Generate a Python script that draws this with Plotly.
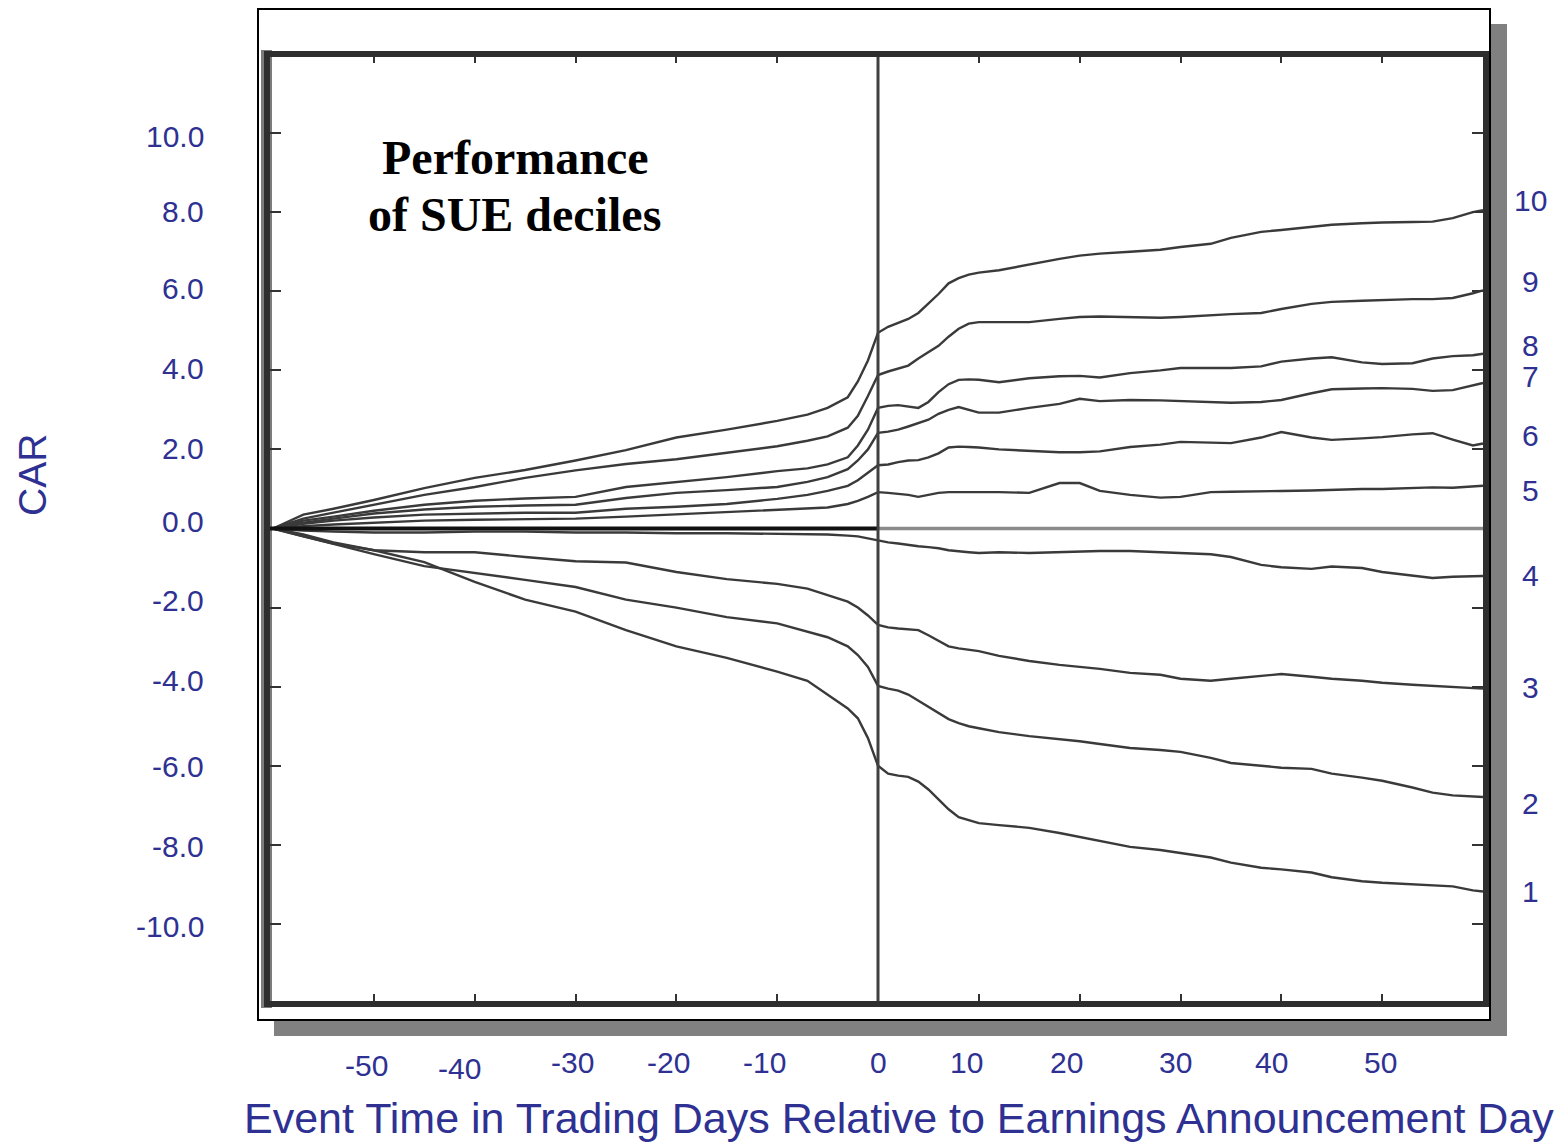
import plotly.graph_objects as go

# ---------------- data ----------------
days = [-60, -57, -54, -50, -45, -40, -35, -30, -25, -20, -15, -10, -7, -5, -3, -2, -1, 0,
        1, 2, 3, 4, 5, 6, 7, 8, 9, 10, 12, 15, 18, 20, 22, 25, 28, 30, 33, 35, 38, 40,
        43, 45, 48, 50, 53, 55, 57, 59, 60]

car_d10 = [0, 0.35, 0.5, 0.72, 1.02, 1.28, 1.48, 1.72, 1.98, 2.3, 2.5, 2.72, 2.88, 3.05, 3.32, 3.72, 4.25, 4.95,
           5.1, 5.2, 5.3, 5.45, 5.68, 5.93, 6.2, 6.33, 6.42, 6.47, 6.53, 6.68, 6.82, 6.9, 6.95, 7.0, 7.05, 7.12,
           7.2, 7.35, 7.5, 7.55, 7.63, 7.68, 7.72, 7.74, 7.75, 7.76, 7.85, 8.0, 8.05]
car_d9 = [0, 0.25, 0.4, 0.6, 0.85, 1.05, 1.28, 1.47, 1.63, 1.75, 1.92, 2.08, 2.22, 2.33, 2.55, 2.85, 3.35, 3.88,
          3.97, 4.05, 4.12, 4.3, 4.45, 4.62, 4.85, 5.05, 5.18, 5.22, 5.22, 5.22, 5.3, 5.35, 5.36, 5.35, 5.33, 5.35,
          5.4, 5.42, 5.45, 5.55, 5.68, 5.73, 5.76, 5.78, 5.8, 5.8, 5.83, 5.95, 6.02]
car_d8 = [0, 0.2, 0.3, 0.45, 0.6, 0.7, 0.76, 0.8, 1.05, 1.18, 1.3, 1.45, 1.52, 1.62, 1.8, 2.1, 2.5, 3.05,
          3.1, 3.12, 3.08, 3.05, 3.2, 3.45, 3.65, 3.76, 3.77, 3.76, 3.7, 3.8, 3.85, 3.86, 3.82, 3.93, 4.0, 4.06,
          4.06, 4.06, 4.1, 4.22, 4.3, 4.33, 4.2, 4.16, 4.18, 4.3, 4.36, 4.38, 4.42]
car_d7 = [0, 0.15, 0.25, 0.38, 0.48, 0.55, 0.58, 0.6, 0.77, 0.9, 0.97, 1.05, 1.18, 1.3, 1.5, 1.72, 2.0, 2.42,
          2.45, 2.5, 2.58, 2.67, 2.75, 2.9, 3.0, 3.07, 3.0, 2.93, 2.93, 3.05, 3.15, 3.28, 3.22, 3.25, 3.24, 3.22,
          3.2, 3.18, 3.2, 3.25, 3.42, 3.52, 3.54, 3.55, 3.53, 3.48, 3.5, 3.62, 3.68]
car_d6 = [0, 0.12, 0.2, 0.28, 0.35, 0.38, 0.4, 0.4, 0.5, 0.55, 0.62, 0.75, 0.85, 0.95, 1.08, 1.22, 1.4, 1.6,
          1.62, 1.68, 1.72, 1.73, 1.8, 1.9, 2.05, 2.07, 2.06, 2.05, 2.0, 1.97, 1.93, 1.93, 1.95, 2.06, 2.12, 2.19,
          2.17, 2.16, 2.3, 2.44, 2.3, 2.24, 2.28, 2.31, 2.38, 2.41, 2.25, 2.1, 2.15]
car_d5 = [0, 0.06, 0.1, 0.15, 0.2, 0.22, 0.24, 0.25, 0.3, 0.36, 0.42, 0.48, 0.52, 0.53, 0.62, 0.7, 0.8, 0.92,
          0.9, 0.88, 0.85, 0.8, 0.85, 0.9, 0.92, 0.92, 0.92, 0.92, 0.92, 0.9, 1.15, 1.15, 0.95, 0.85, 0.78, 0.8,
          0.92, 0.93, 0.95, 0.95, 0.96, 0.98, 1.0, 1.0, 1.02, 1.04, 1.03, 1.06, 1.08]
car_d4 = [0, -0.05, -0.08, -0.1, -0.1, -0.08, -0.08, -0.1, -0.1, -0.12, -0.12, -0.13, -0.15, -0.15, -0.18, -0.2, -0.25, -0.3,
          -0.35, -0.38, -0.42, -0.45, -0.47, -0.5, -0.55, -0.58, -0.6, -0.62, -0.6, -0.62, -0.6, -0.57, -0.57, -0.57, -0.6, -0.62,
          -0.65, -0.72, -0.92, -0.98, -1.02, -0.96, -1.0, -1.1, -1.2, -1.25, -1.22, -1.2, -1.2]
car_d3 = [0, -0.15, -0.35, -0.55, -0.6, -0.6, -0.72, -0.83, -0.86, -1.1, -1.28, -1.4, -1.52, -1.68, -1.85, -2.0, -2.2, -2.44,
          -2.5, -2.53, -2.55, -2.57, -2.7, -2.85, -2.98, -3.03, -3.07, -3.1, -3.22, -3.35, -3.45, -3.5, -3.55, -3.65, -3.7, -3.8,
          -3.85, -3.8, -3.72, -3.68, -3.75, -3.8, -3.85, -3.9, -3.95, -3.98, -4.02, -4.05, -4.05]
car_d2 = [0, -0.2, -0.4, -0.65, -0.95, -1.12, -1.3, -1.48, -1.8, -2.0, -2.24, -2.4, -2.6, -2.75, -2.98, -3.2, -3.5, -3.98,
          -4.05, -4.1, -4.2, -4.35, -4.5, -4.65, -4.82, -4.92, -5.0, -5.05, -5.15, -5.25, -5.32, -5.38, -5.45, -5.55, -5.6, -5.65,
          -5.8, -5.93, -6.0, -6.05, -6.08, -6.2, -6.3, -6.38, -6.55, -6.68, -6.75, -6.78, -6.79]
car_d1 = [0, -0.2, -0.38, -0.55, -0.85, -1.35, -1.8, -2.1, -2.57, -2.98, -3.27, -3.62, -3.85, -4.2, -4.55, -4.8, -5.3, -6.0,
          -6.2, -6.25, -6.28, -6.4, -6.6, -6.85, -7.1, -7.3, -7.38, -7.45, -7.5, -7.57, -7.7, -7.8, -7.9, -8.05, -8.13, -8.2,
          -8.32, -8.45, -8.58, -8.62, -8.7, -8.82, -8.92, -8.96, -9.0, -9.01, -9.05, -9.15, -9.18]

decile_names = ["10", "9", "8", "7", "6", "5", "4", "3", "2", "1"]
decile_series = [car_d10, car_d9, car_d8, car_d7, car_d6, car_d5, car_d4, car_d3, car_d2, car_d1]

y_tick_values = [10, 8, 6, 4, 2, 0, -2, -4, -6, -8, -10]
y_tick_labels = ["10.0", "8.0", "6.0", "4.0", "2.0", "0.0", "-2.0", "-4.0", "-6.0", "-8.0", "-10.0"]
x_tick_values = [-50, -40, -30, -20, -10, 0, 10, 20, 30, 40, 50]
x_tick_labels = ["-50", "-40", "-30", "-20", "-10", "0", "10", "20", "30", "40", "50"]

title_lines = ["Performance", "of SUE deciles"]
x_title = "Event Time in Trading Days Relative to Earnings Announcement Day"
y_title = "CAR"

# ---------------- layout / style (pixels) ----------------
FIG_W, FIG_H = 1556, 1143
L, R, T, B = 268, 1485, 52, 1005
PW, PH = R - L, B - T
BLUE = "#2E3192"
LINE = "#3a3a3a"


def px(x):
    return (x - L) / PW


def py(y):
    return (B - y) / PH


# label tweaks (pixel shifts) to mimic the hand-placed text of the original
right_label_shift = [10, 9, 8, 6, 8, -5, 0, 1, -6, 0]
x_label_shift = [-7, -15, -3, -8, -13, 0, -12, -13, -5, -10, -2]
x_label_y = [1065, 1068, 1062, 1062, 1062, 1062, 1062, 1062, 1062, 1062, 1062]
y_label_shift = [-3, 1, 3, 2, 1, 7, 7, 6, -1, -2, -3]

fig = go.Figure()

for name, vals in zip(decile_names, decile_series):
    fig.add_trace(go.Scatter(x=days, y=vals, mode="lines", name=name,
                             line=dict(color=LINE, width=2.4), showlegend=False,
                             hoverinfo="skip"))

shapes = []
# drop shadow and outer white box
shapes.append(dict(type="rect", xref="paper", yref="paper", layer="below",
                   x0=px(274), x1=px(1507), y0=py(1036), y1=py(24),
                   fillcolor="#808080", line=dict(width=0)))
shapes.append(dict(type="rect", xref="paper", yref="paper", layer="below",
                   x0=px(258), x1=px(1490), y0=py(1020), y1=py(9),
                   fillcolor="white", line=dict(color="black", width=2)))
# mottled left band of inner frame
shapes.append(dict(type="rect", xref="paper", yref="paper", layer="below",
                   x0=px(261), x1=px(272), y0=py(1008), y1=py(50),
                   fillcolor="#7c7c7c", line=dict(width=0)))
# zero reference line: dark before announcement, grey after
shapes.append(dict(type="line", xref="paper", yref="y", x0=0, x1=px(878), y0=0, y1=0,
                   line=dict(color="#111111", width=4)))
shapes.append(dict(type="line", xref="x", yref="y", x0=0, x1=60.2, y0=0, y1=0,
                   line=dict(color="#8a8a8a", width=3.5)))
# announcement-day vertical line
shapes.append(dict(type="line", xref="x", yref="paper", x0=0, x1=0, y0=0, y1=1,
                   line=dict(color="#404040", width=3)))
# inner (thick) frame of the scanned plot
shapes.append(dict(type="rect", xref="paper", yref="paper",
                   x0=px(267), x1=px(1486), y0=py(1004), y1=py(54),
                   fillcolor="rgba(0,0,0,0)", line=dict(color="#2e2e2e", width=6)))

annotations = []
for v, t, s in zip(y_tick_values, y_tick_labels, y_label_shift):
    annotations.append(dict(text=t, xref="paper", yref="y", x=px(206), y=v, yshift=s,
                            xanchor="right", yanchor="middle", showarrow=False,
                            font=dict(family="Liberation Sans, Arial", size=30, color=BLUE)))
for v, t, s, yy in zip(x_tick_values, x_tick_labels, x_label_shift, x_label_y):
    annotations.append(dict(text=t, xref="x", yref="paper", x=v, y=py(yy), xshift=s,
                            xanchor="center", yanchor="middle", showarrow=False,
                            font=dict(family="Liberation Sans, Arial", size=30, color=BLUE)))
for name, vals, s in zip(decile_names, decile_series, right_label_shift):
    annotations.append(dict(text=name, xref="paper", yref="y", x=px(1530), y=vals[-1], yshift=s,
                            xanchor="center", yanchor="middle", showarrow=False,
                            font=dict(family="Liberation Sans, Arial", size=30, color=BLUE)))
annotations.append(dict(text="<b>" + title_lines[0] + "</b>", xref="paper", yref="paper",
                        x=px(515), y=py(157), xanchor="center", yanchor="middle", showarrow=False,
                        font=dict(family="Liberation Serif, Times New Roman", size=48, color="black")))
annotations.append(dict(text="<b>" + title_lines[1] + "</b>", xref="paper", yref="paper",
                        x=px(514), y=py(214), xanchor="center", yanchor="middle", showarrow=False,
                        font=dict(family="Liberation Serif, Times New Roman", size=48, color="black")))
annotations.append(dict(text=x_title, xref="paper", yref="paper", x=px(899), y=py(1118),
                        xanchor="center", yanchor="middle", showarrow=False,
                        font=dict(family="Liberation Sans, Arial", size=43, color=BLUE)))
annotations.append(dict(text=y_title, xref="paper", yref="paper", x=px(32), y=py(475),
                        xanchor="center", yanchor="middle", showarrow=False, textangle=-90,
                        font=dict(family="Liberation Sans, Arial", size=39, color=BLUE)))

fig.update_layout(
    width=FIG_W, height=FIG_H,
    margin=dict(l=L, r=FIG_W - R, t=T, b=FIG_H - B, pad=0),
    paper_bgcolor="white", plot_bgcolor="rgba(0,0,0,0)",
    shapes=shapes, annotations=annotations,
    showlegend=False,
)
fig.update_xaxes(range=[-60.5, 60.2], tickvals=x_tick_values, showticklabels=False,
                 ticks="inside", ticklen=11, tickwidth=2, tickcolor="#333333",
                 showline=False, mirror="ticks",
                 showgrid=False, zeroline=False)
fig.update_yaxes(range=[-12.05, 12.05], tickvals=y_tick_values, showticklabels=False,
                 ticks="inside", ticklen=13, tickwidth=2, tickcolor="#333333",
                 showline=False, mirror="ticks",
                 showgrid=False, zeroline=False)

fig.write_html("out.html")
